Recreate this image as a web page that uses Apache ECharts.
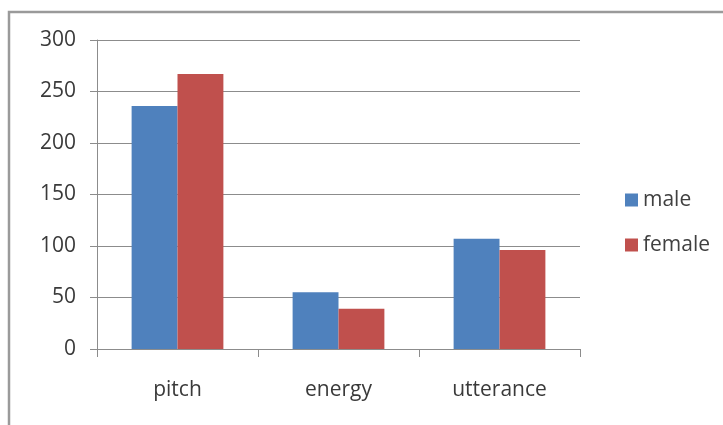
<!DOCTYPE html>
<html>
<head>
<meta charset="utf-8">
<script src="https://cdn.jsdelivr.net/npm/echarts@6/dist/echarts.min.js"></script>
<style>
  html, body { margin: 0; padding: 0; background: #fff; }
  #chart { width: 723px; height: 425px; }
</style>
</head>
<body>
<div id="chart"></div>
<script>
// Categories and series values
const categories = ['pitch', 'energy', 'utterance'];
const maleValues = [236, 55, 107];
const femaleValues = [267, 39, 96];
const yTicks = { min: 0, max: 300, interval: 50 };

const font = '"Open Sans", "Liberation Sans", sans-serif';
const chart = echarts.init(document.getElementById('chart'), null, { renderer: 'canvas' });

chart.setOption({
  backgroundColor: '#fff',
  animation: false,
  graphic: [{
    type: 'polyline',
    shape: { points: [[9, 430], [9, 12], [730, 12]] },
    style: { stroke: '#9a9a9a', lineWidth: 2.5, fill: null }
  }],
  grid: { left: 97, right: 143, top: 40, bottom: 76, containLabel: false },
  legend: {
    orient: 'vertical',
    left: 620,
    top: 184,
    itemWidth: 13,
    itemHeight: 13,
    itemGap: 23,
    icon: 'rect',
    textStyle: { fontFamily: font, fontSize: 21, lineHeight: 22, color: '#404040', padding: [0, 0, 0, 0] },
    data: ['male', 'female']
  },
  xAxis: {
    type: 'category',
    data: categories,
    axisLine: { lineStyle: { color: '#8c8c8c', width: 1 } },
    axisTick: { show: true, length: 8, lineStyle: { color: '#8c8c8c' } },
    axisLabel: { fontFamily: font, fontSize: 21, color: '#3a3a3a', margin: 31 }
  },
  yAxis: {
    type: 'value',
    min: yTicks.min,
    max: yTicks.max,
    interval: yTicks.interval,
    axisLine: { show: true, lineStyle: { color: '#8c8c8c', width: 1 } },
    axisTick: { show: true, length: 7, lineStyle: { color: '#8c8c8c' } },
    splitLine: { lineStyle: { color: '#8c8c8c', width: 1 } },
    axisLabel: { fontFamily: font, fontSize: 21, color: '#3a3a3a', margin: 21 }
  },
  series: [
    {
      name: 'male', type: 'bar', data: maleValues,
      barCategoryGap: '43%', barGap: '0%',
      itemStyle: { color: '#4F81BD' }
    },
    {
      name: 'female', type: 'bar', data: femaleValues,
      barCategoryGap: '43%', barGap: '0%',
      itemStyle: { color: '#C0504D' }
    }
  ]
});
</script>
</body>
</html>
